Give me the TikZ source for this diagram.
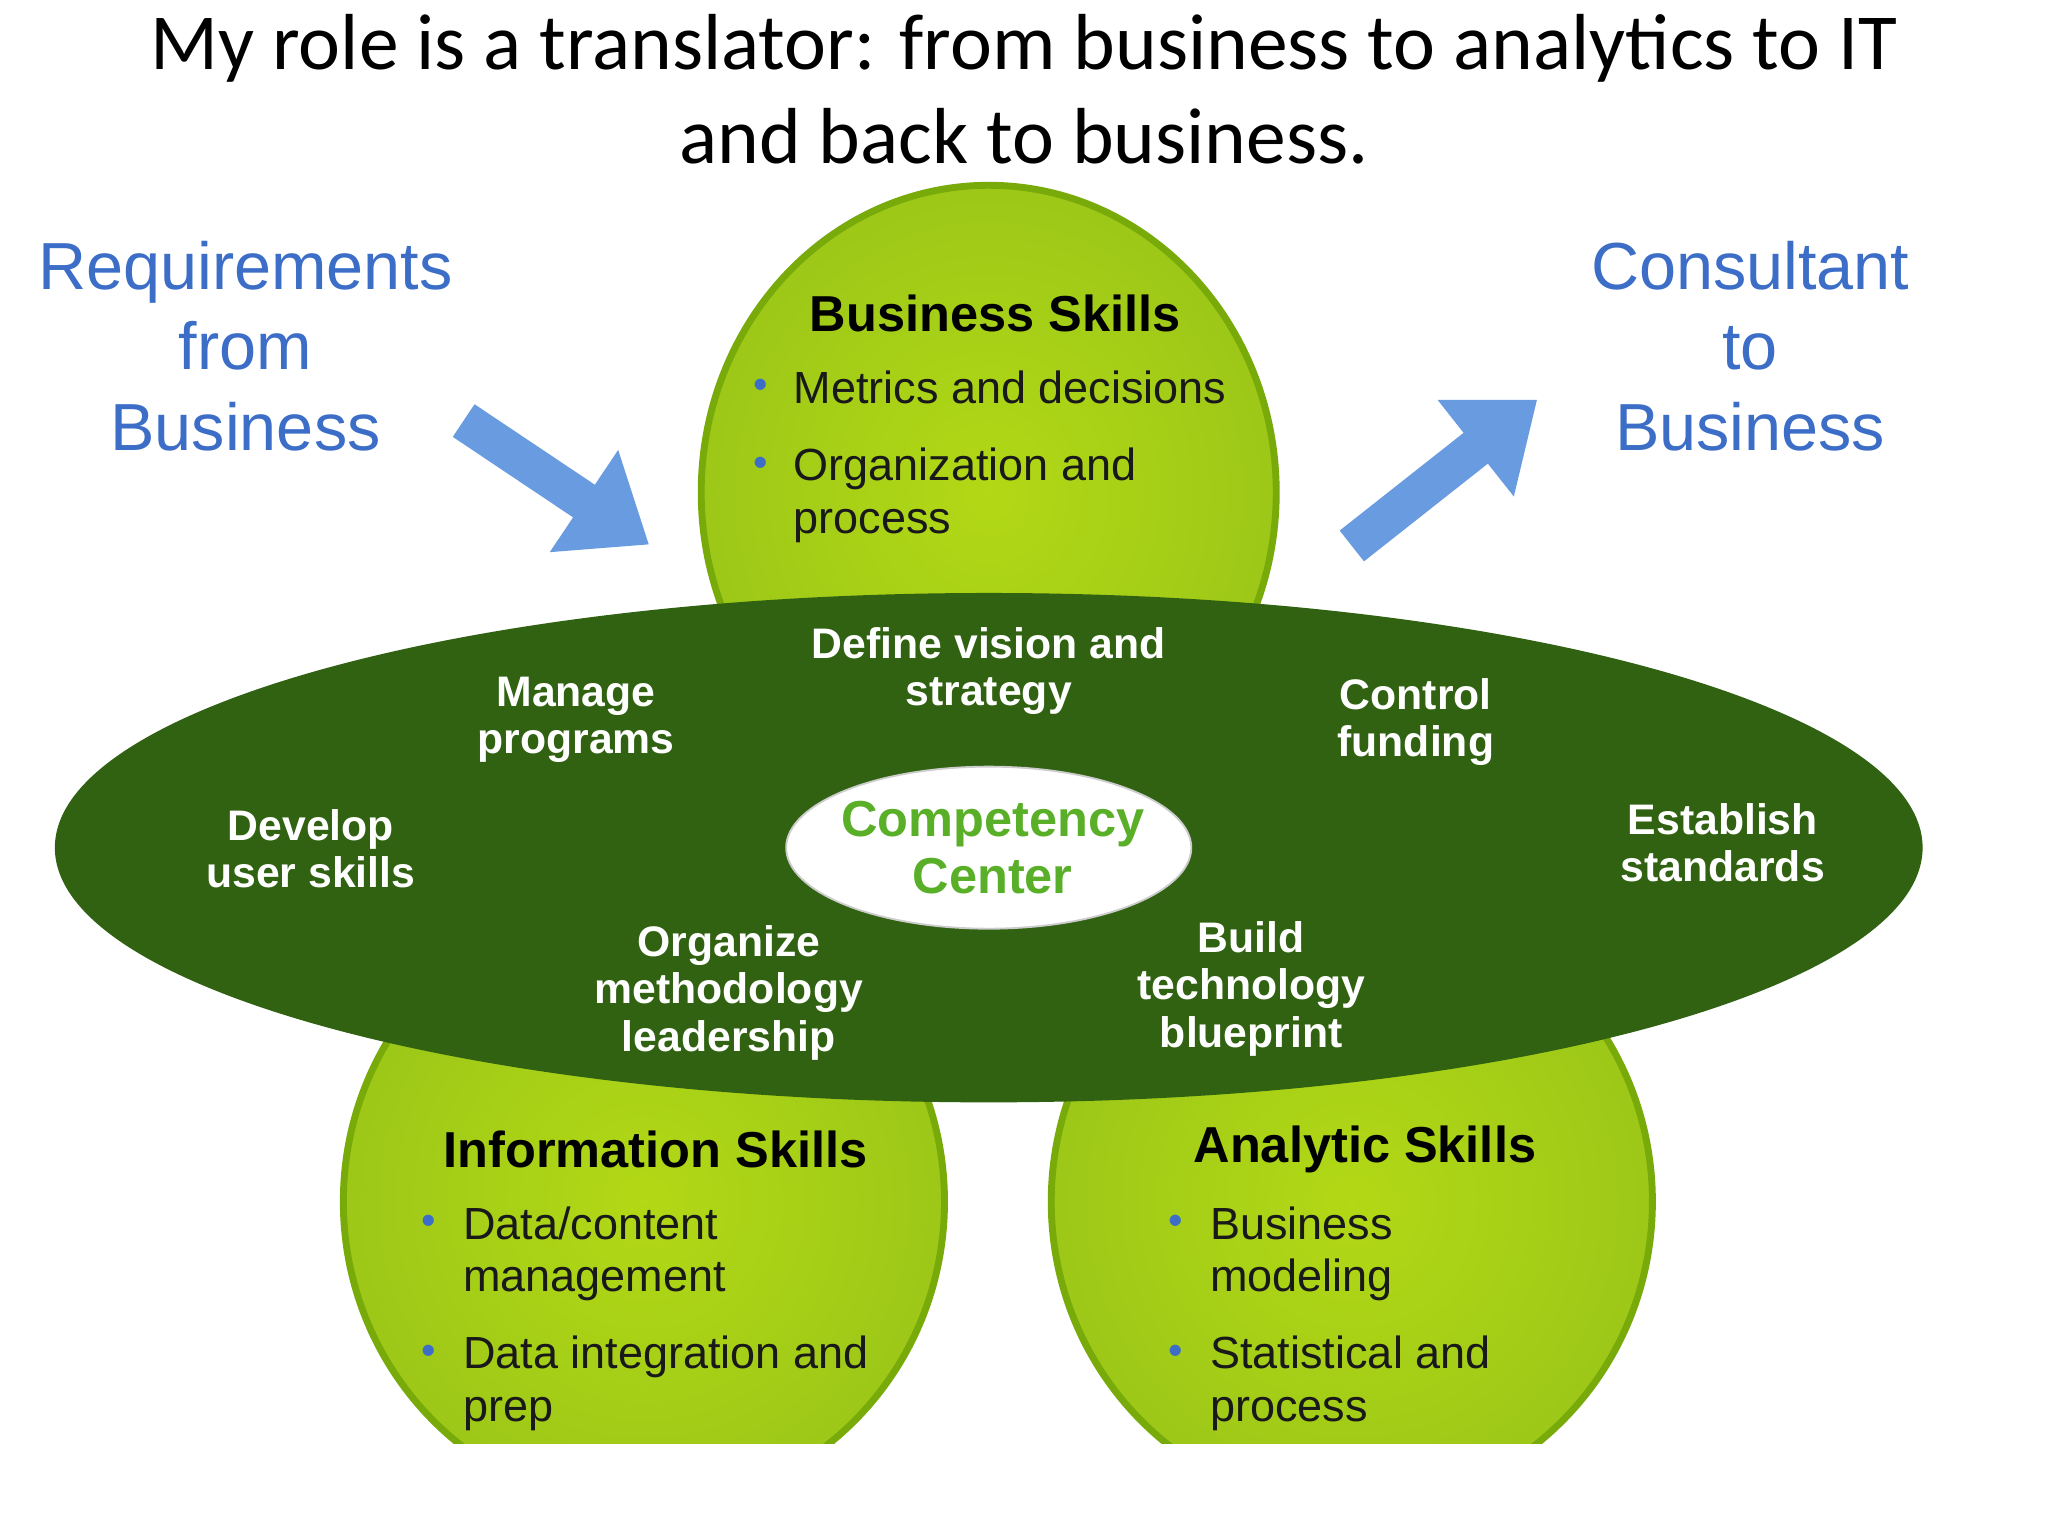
\documentclass[tikz,border=0pt]{standalone}
\usepackage{fontspec}
\setmainfont{Liberation Sans}
\newfontfamily\titlefont{Carlito}
\usetikzlibrary{arrows.meta,shapes.geometric}
\definecolor{lgreen}{RGB}{165,210,25}
\definecolor{lgreendark}{RGB}{120,170,10}
\definecolor{dgreen}{RGB}{48,98,18}
\definecolor{bluetxt}{RGB}{60,110,200}
\definecolor{bluearr}{RGB}{105,155,225}
\definecolor{ccgreen}{RGB}{90,175,40}
\tikzset{
 x=0.01cm,y=-0.01cm,
 petal/.style={draw=lgreendark,line width=1.5pt,inner color=lgreen!85!yellow,outer color=lgreen!95!black},
 head/.style={font=\fontsize{11pt}{12pt}\selectfont\bfseries,text=black},
 item/.style={font=\fontsize{9.8pt}{11.5pt}\selectfont,text=black!90,align=left,anchor=north west,inner sep=0pt},
 bul/.style={font=\fontsize{9pt}{10pt}\selectfont,text=bluetxt,anchor=north west,inner sep=0pt},
 wt/.style={font=\fontsize{9.3pt}{10.3pt}\selectfont\bfseries,text=white,align=center},
 bl/.style={font=\fontsize{14.5pt}{17.5pt}\selectfont,text=bluetxt,align=center},
 barrow/.style={draw=bluearr,line width=0.3cm,-{Triangle[width=0.9cm,length=0.6cm]}}
}
\begin{document}
\begin{tikzpicture}
\useasboundingbox (0,0) rectangle (1568,1176);
\fill[white] (0,0) rectangle (1568,1176);
\node[font=\titlefont\fontsize{17.3pt}{20.5pt}\selectfont,align=center] (title) at (784,68) {My role is a translator: from business to analytics to IT\\and back to business.};
\begin{scope}
\clip (0,0) rectangle (1568,1105);
\node[petal,ellipse,minimum width=4.4cm,minimum height=4.7cm] (bus) at (757,377) {};
\node[petal,ellipse,minimum width=4.6cm,minimum height=4.7cm] (inf) at (493,920) {};
\node[petal,ellipse,minimum width=4.6cm,minimum height=4.7cm] (ana) at (1035,920) {};
\end{scope}
\fill[dgreen] (757,649) ellipse (715 and 195);
\node[fill=white,ellipse,minimum width=3.1cm,minimum height=1.24cm,draw=black!20] (cc) at (757,649) {};
\node[font=\fontsize{11pt}{12.5pt}\selectfont\bfseries,text=ccgreen,align=center] (cct) at (760,649) {Competency\\Center};
% business
\node[head] (bh) at (762,240) {Business Skills};
\node[bul] (b1) at (576,290) {•};
\node[item] (bt1) at (607,283) {Metrics and decisions};
\node[bul] (b2) at (576,349) {•};
\node[item] (bt2) at (607,342) {Organization and\\process};
% information
\node[head] (ih) at (502,880) {Information Skills};
\node[bul] (i1) at (322,930) {•};
\node[item] (it1) at (354,923) {Data/content\\management};
\node[bul] (i2) at (322,1029) {•};
\node[item] (it2) at (354,1022) {Data integration and\\prep};
% analytic
\node[head] (ah) at (1045,880) {Analytic Skills};
\node[bul] (a1) at (894,930) {•};
\node[item] (at1) at (926,923) {Business\\modeling};
\node[bul] (a2) at (894,1029) {•};
\node[item] (at2) at (926,1022) {Statistical and\\process};
% dark ellipse texts
\node[wt] (w1) at (757,514) {Define vision and\\strategy};
\node[wt] (w2) at (441,551) {Manage\\programs};
\node[wt] (w3) at (1084,553) {Control\\funding};
\node[wt] (w4) at (238,650) {Develop\\user skills};
\node[wt] (w5) at (1319,645) {Establish\\standards};
\node[wt] (w6) at (558,760) {Organize\\methodology\\leadership};
\node[wt] (w7) at (958,757) {Build\\technology\\blueprint};
% blue labels
\node[bl] (req) at (188,265) {Requirements\\from\\Business};
\node[bl] (con) at (1340,265) {Consultant\\to\\Business};
\coordinate (la) at (355,322);
\coordinate (lb) at (497,417);
\coordinate (ra) at (1035,418);
\coordinate (rb) at (1177,306);
\draw[barrow] (la) -- (lb);
\draw[barrow] (ra) -- (rb);
\end{tikzpicture}
\end{document}
